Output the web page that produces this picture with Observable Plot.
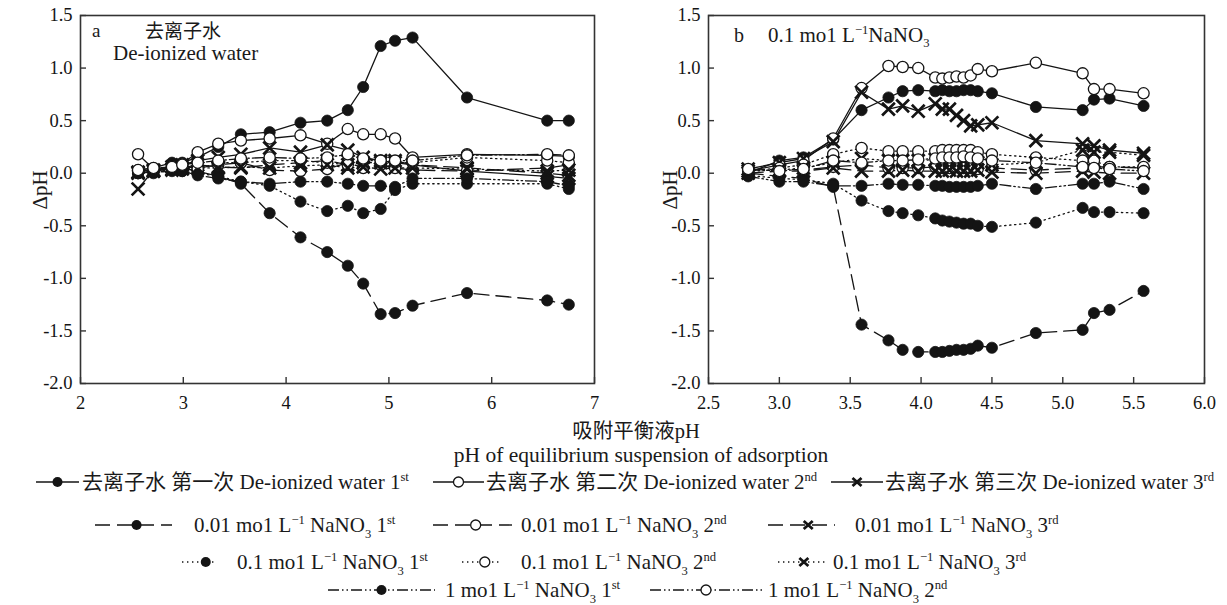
<!DOCTYPE html>
<html><head><meta charset="utf-8">
<script src="https://cdn.jsdelivr.net/npm/d3@7"></script>
<script src="https://cdn.jsdelivr.net/npm/@observablehq/plot@0.6"></script>
<style>
body{margin:0;background:#fff;font-family:"Liberation Serif","Noto Sans CJK SC",serif;color:#1a1a1a;}
#wrap{position:relative;width:1227px;height:605px;overflow:hidden;background:#fff;}
.panel{position:absolute;top:0;}
.ann{position:absolute;white-space:nowrap;line-height:1;}
.lg{position:absolute;white-space:nowrap;display:flex;align-items:center;font-size:21px;line-height:1;}
sup{font-size:60%;vertical-align:0.6em;line-height:0;}
sub{font-size:60%;vertical-align:-0.45em;line-height:0;}
</style></head><body><div id="wrap"></div>
<script>
// ---------- data ----------
const yTicks = [-2, -1.5, -1, -0.5, 0, 0.5, 1, 1.5];
const aXTicks = [2, 3, 4, 5, 6, 7];
const bXTicks = [2.5, 3, 3.5, 4, 4.5, 5, 5.5, 6];

// panel a: equilibrium pH
const aPH = [2.56, 2.71, 2.89, 2.99, 3.14, 3.34, 3.56, 3.84, 4.14, 4.40, 4.60, 4.75, 4.92, 5.06, 5.23, 5.76, 6.54, 6.75];
const a_DI_1  = [0.03, 0.05, 0.10, 0.10, 0.15, 0.25, 0.37, 0.39, 0.48, 0.50, 0.60, 0.82, 1.21, 1.26, 1.29, 0.72, 0.50, 0.50];
const a_DI_2  = [0.18, 0.04, 0.06, 0.09, 0.20, 0.28, 0.31, 0.33, 0.36, 0.28, 0.42, 0.37, 0.37, 0.33, 0.15, 0.18, 0.17, 0.16];
const a_DI_3  = [-0.15, 0.03, 0.06, 0.08, 0.12, 0.15, 0.18, 0.24, 0.20, 0.27, 0.22, 0.15, 0.12, 0.10, 0.08, 0.02, -0.03, -0.05];
const a_001_1 = [0.00, 0.02, 0.05, 0.05, 0.02, -0.03, -0.10, -0.38, -0.61, -0.75, -0.88, -1.05, -1.34, -1.33, -1.26, -1.14, -1.21, -1.25];
const a_001_2 = [0.02, 0.03, 0.05, 0.06, 0.05, 0.08, 0.10, 0.03, 0.02, 0.04, 0.10, 0.05, 0.08, 0.05, 0.03, 0.02, 0.05, 0.08];
const a_001_3 = [0.00, 0.02, 0.04, 0.05, 0.08, 0.06, 0.05, 0.08, 0.10, 0.12, 0.08, 0.10, 0.10, 0.12, 0.08, 0.05, 0.00, -0.02];
const a_01_1  = [0.00, 0.00, 0.03, 0.02, 0.00, -0.03, -0.08, -0.12, -0.27, -0.36, -0.31, -0.38, -0.34, -0.16, -0.10, -0.10, -0.10, -0.15];
const a_01_2  = [0.02, 0.03, 0.05, 0.06, 0.04, 0.10, 0.10, 0.12, 0.12, 0.10, 0.08, 0.12, 0.12, 0.10, 0.10, 0.15, 0.12, 0.10];
const a_01_3  = [0.01, 0.02, 0.03, 0.04, 0.05, 0.05, 0.06, 0.05, 0.07, 0.08, 0.05, 0.06, 0.04, 0.05, 0.05, 0.04, 0.02, 0.03];
const a_1_1   = [0.00, 0.01, 0.02, 0.02, -0.02, -0.05, -0.08, -0.10, -0.08, -0.08, -0.10, -0.12, -0.12, -0.13, -0.05, -0.05, -0.08, -0.12];
const a_1_2   = [0.03, 0.05, 0.06, 0.08, 0.10, 0.12, 0.14, 0.15, 0.14, 0.15, 0.18, 0.14, 0.12, 0.12, 0.12, 0.17, 0.18, 0.17];

// panel b: equilibrium pH
const bPH = [2.78, 3.00, 3.17, 3.38, 3.58, 3.77, 3.87, 3.98, 4.10, 4.15, 4.20, 4.25, 4.30, 4.35, 4.40, 4.50, 4.81, 5.14, 5.22, 5.33, 5.57];
const b_DI_1  = [0.00, 0.12, 0.15, 0.32, 0.60, 0.72, 0.78, 0.79, 0.78, 0.79, 0.78, 0.78, 0.79, 0.79, 0.78, 0.76, 0.63, 0.60, 0.70, 0.71, 0.64];
const b_DI_2  = [0.02, 0.08, 0.12, 0.33, 0.81, 1.02, 1.01, 1.00, 0.91, 0.90, 0.91, 0.92, 0.91, 0.93, 0.99, 0.97, 1.05, 0.95, 0.80, 0.80, 0.76];
const b_DI_3  = [0.04, 0.10, 0.14, 0.30, 0.77, 0.61, 0.64, 0.59, 0.66, 0.61, 0.61, 0.55, 0.50, 0.45, 0.46, 0.48, 0.31, 0.28, 0.26, 0.22, 0.19];
const b_001_1 = [0.00, -0.03, -0.05, -0.13, -1.44, -1.59, -1.68, -1.70, -1.70, -1.70, -1.69, -1.68, -1.68, -1.67, -1.64, -1.66, -1.52, -1.49, -1.33, -1.30, -1.12];
const b_001_2 = [0.03, 0.04, 0.03, 0.06, 0.08, 0.05, 0.05, 0.05, 0.06, 0.05, 0.05, 0.06, 0.05, 0.05, 0.04, 0.05, 0.03, 0.05, 0.06, 0.06, 0.05];
const b_001_3 = [0.00, 0.02, 0.02, 0.05, 0.02, 0.02, 0.03, 0.02, 0.02, 0.02, 0.03, 0.02, 0.02, 0.02, 0.03, 0.01, 0.00, 0.02, 0.01, 0.00, 0.00];
const b_01_1  = [-0.02, -0.05, -0.06, -0.10, -0.26, -0.36, -0.38, -0.40, -0.43, -0.45, -0.46, -0.47, -0.48, -0.48, -0.50, -0.51, -0.47, -0.33, -0.37, -0.37, -0.38];
const b_01_2  = [0.02, 0.05, 0.08, 0.18, 0.24, 0.21, 0.21, 0.21, 0.21, 0.22, 0.22, 0.22, 0.22, 0.22, 0.20, 0.18, 0.15, 0.12, 0.12, 0.06, 0.06];
const b_01_3  = [0.02, 0.03, 0.05, 0.10, 0.14, 0.12, 0.12, 0.12, 0.13, 0.12, 0.12, 0.12, 0.12, 0.12, 0.10, 0.08, 0.10, 0.22, 0.20, 0.20, 0.17];
const b_1_1   = [-0.03, -0.08, -0.08, -0.12, -0.12, -0.10, -0.11, -0.11, -0.12, -0.12, -0.13, -0.13, -0.13, -0.13, -0.12, -0.10, -0.15, -0.10, -0.10, -0.08, -0.15];
const b_1_2   = [0.04, 0.02, 0.04, 0.12, 0.10, 0.12, 0.12, 0.13, 0.14, 0.15, 0.15, 0.15, 0.16, 0.15, 0.14, 0.12, 0.10, 0.06, 0.05, 0.04, 0.02];

// series categories (background solution, run)
const seriesConc = [0, 0, 0, 1, 1, 1, 2, 2, 2, 3, 3];
const seriesRun  = [0, 1, 2, 0, 1, 2, 0, 1, 2, 0, 1];
const concLabels = ["去离子水", "0.01", "0.1", "1"];
const runCN = ["第一次", "第二次", "第三次"];
const runOrd = [["1", "st"], ["2", "nd"], ["3", "rd"]];

// ---------- styles ----------
const INK = "#141414";
const dashes = [null, "15,7", "1.4,3.6", "11,3,1.5,3,1.5,3"];
const FONT = "'Liberation Serif', 'Noto Sans CJK SC', serif";

function buildRows(xs, list) {
  const rows = [];
  list.forEach((arr, s) => arr.forEach((v, j) => rows.push({x: xs[j], y: v, s})));
  return rows;
}

function markerMarks(data, run, r) {
  if (run === 0) return Plot.dot(data, {x: "x", y: "y", r, fill: INK, stroke: INK, strokeWidth: 0.8});
  if (run === 1) return Plot.dot(data, {x: "x", y: "y", r, fill: "white", stroke: INK, strokeWidth: 1.3});
  return Plot.dot(data, {x: "x", y: "y", r: r * 1.05, symbol: "times", stroke: INK, strokeWidth: 2.7});
}

function makePanel(xs, list, cfg) {
  const rows = buildRows(xs, list);
  const fw = cfg.width - cfg.marginLeft - cfg.marginRight;
  const fh = cfg.height - cfg.marginTop - cfg.marginBottom;
  const marks = [];
  list.forEach((_, s) => {
    marks.push(Plot.line(rows.filter(d => d.s === s), {x: "x", y: "y", stroke: INK, strokeWidth: 1.3,
      strokeDasharray: dashes[seriesConc[s]]}));
  });
  list.forEach((_, s) => marks.push(markerMarks(rows.filter(d => d.s === s), seriesRun[s], 5.6)));
  marks.push(Plot.frame({stroke: "#333", strokeWidth: 1.6}));
  marks.push(Plot.tickX(cfg.xTicks, {x: d => d, stroke: "#333", strokeWidth: 1.4, insetTop: fh - 6}));
  marks.push(Plot.tickY(yTicks, {y: d => d, stroke: "#333", strokeWidth: 1.4, insetRight: fw - 6}));
  marks.push(Plot.axisX(cfg.xTicks, {tickSize: 0, tickPadding: 12, tickFormat: cfg.fmt, fontSize: 18.5, fill: INK}));
  marks.push(Plot.axisY(yTicks, {tickSize: 0, tickPadding: 8, tickFormat: d => d.toFixed(1), fontSize: 18.5, fill: INK}));
  return Plot.plot({
    width: cfg.width, height: cfg.height,
    marginLeft: cfg.marginLeft, marginRight: cfg.marginRight, marginTop: cfg.marginTop, marginBottom: cfg.marginBottom,
    style: {fontFamily: FONT, background: "transparent", overflow: "visible"},
    x: {domain: cfg.xDomain, label: null},
    y: {domain: [-2, 1.5], label: null},
    marks
  });
}

const wrap = document.getElementById("wrap");
function place(node, left) {
  node.classList.add("panel");
  node.style.left = left + "px";
  wrap.appendChild(node);
}

const pa = makePanel(aPH, [a_DI_1, a_DI_2, a_DI_3, a_001_1, a_001_2, a_001_3, a_01_1, a_01_2, a_01_3, a_1_1, a_1_2],
  {width: 610, height: 420, marginLeft: 80, marginRight: 16, marginTop: 15, marginBottom: 37,
   xDomain: [2, 7], xTicks: aXTicks, fmt: d => String(d)});
place(pa, 0);
const pb = makePanel(bPH, [b_DI_1, b_DI_2, b_DI_3, b_001_1, b_001_2, b_001_3, b_01_1, b_01_2, b_01_3, b_1_1, b_1_2],
  {width: 617, height: 420, marginLeft: 98, marginRight: 23, marginTop: 15, marginBottom: 37,
   xDomain: [2.5, 6], xTicks: bXTicks, fmt: d => d.toFixed(1)});
place(pb, 610);

function ann(html, cx, cy, size, rot) {
  const d = document.createElement("div");
  d.className = "ann";
  d.innerHTML = html;
  d.style.left = cx + "px"; d.style.top = cy + "px"; d.style.fontSize = size + "px";
  d.style.transform = "translate(-50%,-50%)" + (rot ? " rotate(-90deg)" : "");
  wrap.appendChild(d);
  return d;
}
function annL(html, left, cy, size) {
  const d = document.createElement("div");
  d.className = "ann";
  d.innerHTML = html;
  d.style.left = left + "px"; d.style.top = cy + "px"; d.style.fontSize = size + "px";
  d.style.transform = "translateY(-50%)";
  wrap.appendChild(d);
  return d;
}
// panel annotations
annL("a", 92, 30, 19);
annL("去离子水", 145, 31, 19);
annL("De-ionized water", 113, 53, 21);
annL("b", 734, 35, 20);
annL("0.1 mo1 L<sup>−1</sup>NaNO<sub>3</sub>", 768, 35, 21);
// y titles
ann("ΔpH", 40, 190, 21, true);
ann("ΔpH", 670, 190, 21, true);
// x title
ann("吸附平衡液pH", 636, 431, 20.5);
ann("pH of equilibrium suspension of adsorption", 641, 456, 21.5);

// ---------- legend ----------
function swatch(conc, run, w, mpos) {
  const h = 18, cy = 9, cx = w * mpos;
  const dash = dashes[conc] ? `stroke-dasharray="${dashes[conc]}"` : "";
  let m;
  if (run === 0) m = `<circle cx="${cx}" cy="${cy}" r="5" fill="${INK}"/>`;
  else if (run === 1) m = `<circle cx="${cx}" cy="${cy}" r="5" fill="white" stroke="${INK}" stroke-width="1.3"/>`;
  else m = `<path d="M${cx-4.5},${cy-4}L${cx+4.5},${cy+4}M${cx-4.5},${cy+4}L${cx+4.5},${cy-4}" stroke="${INK}" stroke-width="2.8"/>`;
  return `<svg width="${w}" height="${h}" style="display:block;flex:none"><line x1="0" x2="${w}" y1="${cy}" y2="${cy}" stroke="${INK}" stroke-width="1.4" ${dash}/>${m}</svg>`;
}
function label(s) {
  const c = seriesConc[s], r = seriesRun[s];
  const ord = `${runOrd[r][0]}<sup>${runOrd[r][1]}</sup>`;
  if (c === 0) return `${concLabels[0]} ${runCN[r]} De-ionized water ${ord}`;
  return `${concLabels[c]} mo1 L<sup>−1</sup> NaNO<sub>3</sub> ${ord}`;
}
// legend layout: [series index, left, centerY, swatch width, gap, marker position]
const legendLayout = [
  [0, 36, 482, 43, 3, 0.5], [1, 433, 482, 51, 2, 0.5], [2, 831, 482, 52, 2, 0.5],
  [3, 95, 525, 77, 22, 0.54], [4, 433, 525, 79, 9, 0.54], [5, 768, 525, 67, 20, 0.6],
  [6, 182, 562, 33, 22, 0.72], [7, 462, 562, 38, 21, 0.6], [8, 778, 562, 47, 8, 0.55],
  [9, 328, 590, 107, 10, 0.5], [10, 650, 590, 112, 6, 0.5]
];
legendLayout.forEach(([s, left, cy, w, gap, mp]) => {
  const d = document.createElement("div");
  d.className = "lg";
  d.innerHTML = swatch(seriesConc[s], seriesRun[s], w, mp) + `<span style="margin-left:${gap}px">${label(s)}</span>`;
  d.style.left = left + "px"; d.style.top = (cy - 11) + "px"; d.style.height = "22px";
  wrap.appendChild(d);
});
</script></body></html>
